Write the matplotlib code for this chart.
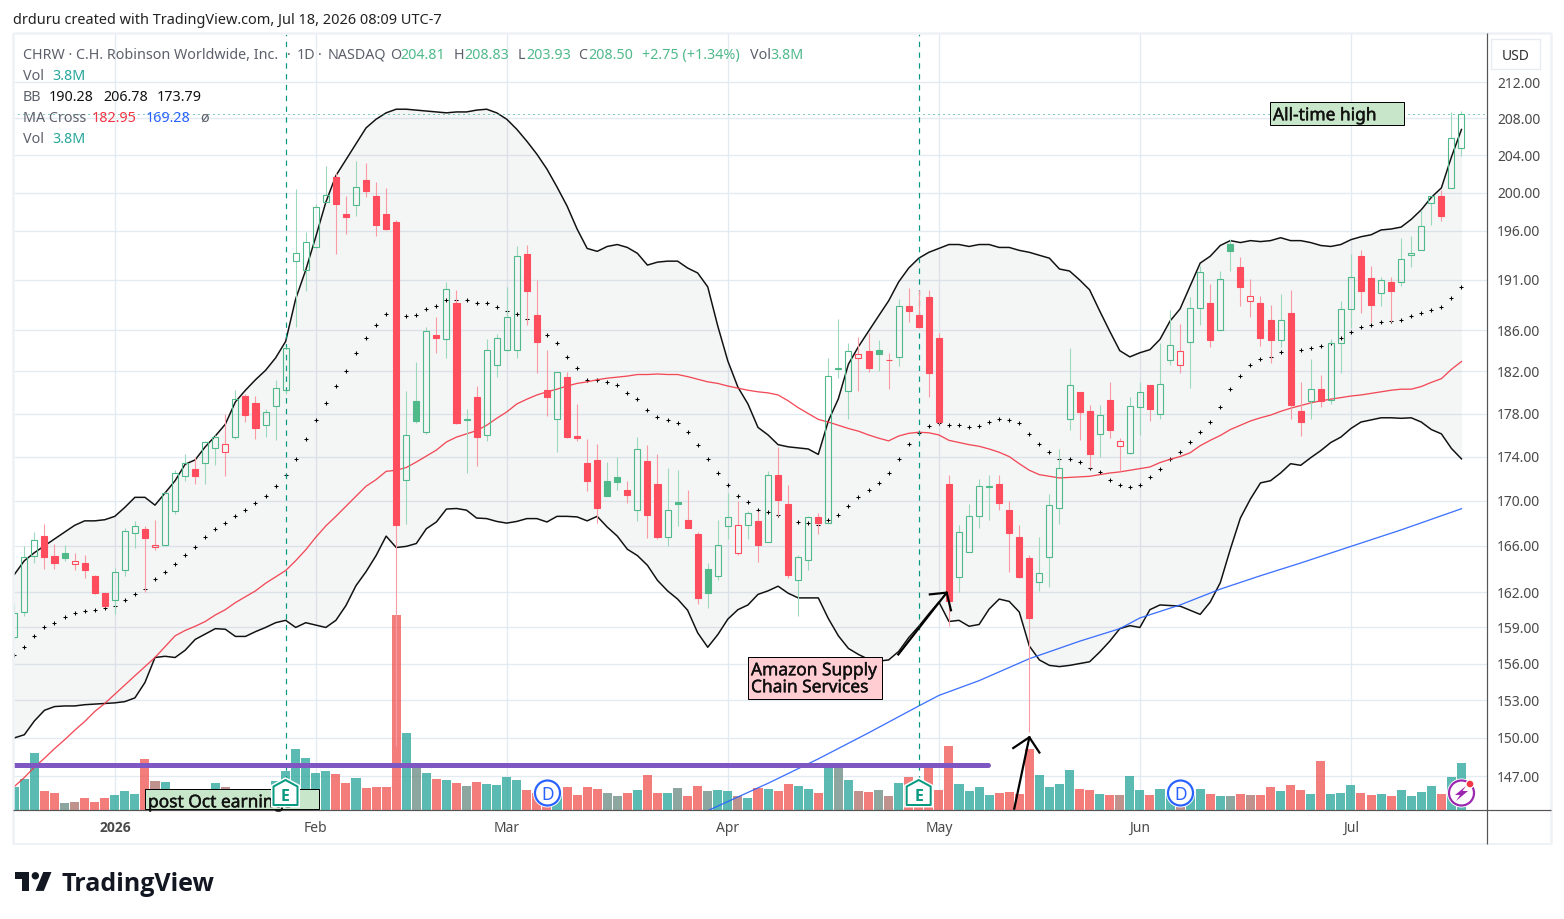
import numpy as np
import matplotlib
matplotlib.use("Agg")
import matplotlib.pyplot as plt
import matplotlib.patheffects as pe
from matplotlib.patches import Rectangle, Polygon, Circle
from matplotlib.ticker import NullLocator, NullFormatter
from matplotlib.transforms import ScaledTranslation

# Daily OHLC for CHRW
opens = [158.2, 160.3, 165.1, 166.9, 165.1, 165.4, 164.4, 164.5, 163.4, 161.9,
         161.3, 163.9, 167.1, 167.5, 165.9, 166.1, 169.1, 172.2, 172.9, 173.4,
         174.8, 174.4, 175.8, 179.7, 179.0, 176.9, 178.7, 180.2, 192.9, 192.0,
         194.3, 199.0, 201.7, 197.8, 198.7, 201.3, 199.6, 197.8, 196.9, 171.9,
         179.2, 176.3, 185.5, 185.1, 188.7, 177.5, 179.6, 176.0, 182.6, 184.1,
         184.1, 193.6, 187.5, 180.2, 177.5, 181.5, 175.9, 173.4, 173.7, 171.8,
         172.1, 171.0, 169.2, 173.6, 171.5, 166.8, 169.9, 168.3, 167.0, 164.0,
         163.4, 167.7, 165.4, 167.8, 168.2, 166.3, 172.3, 169.7, 163.0, 164.8,
         168.5, 168.0, 182.3, 180.1, 183.3, 184.0, 184.1, 183.05, 183.4, 188.4,
         187.5, 189.3, 185.2, 171.5, 163.3, 165.5, 168.6, 171.25, 171.5, 169.2,
         166.8, 164.9, 162.9, 165.0, 169.3, 177.5, 180.0, 178.2, 176.1, 179.3,
         175.0, 174.3, 178.6, 180.7, 178.0, 183.1, 182.6, 184.8, 188.2, 188.7,
         186.0, 194.7, 192.3, 188.9, 188.7, 187.0, 185.0, 187.7, 178.2, 179.2,
         180.3, 179.3, 184.7, 188.1, 193.4, 191.2, 189.7, 190.8, 190.8, 193.5,
         194.0, 198.9, 199.6, 200.5, 204.81]
highs = [161.1, 166.0, 167.2, 167.9, 166.2, 166.1, 165.4, 165.2, 163.5, 161.9,
         164.1, 167.6, 168.2, 167.7, 168.3, 170.8, 172.8, 174.2, 174.0, 175.4,
         176.0, 178.0, 180.2, 179.8, 179.7, 178.4, 181.2, 184.4, 200.4, 195.9,
         198.8, 202.8, 202.1, 199.6, 203.4, 203.2, 201.1, 200.5, 197.1, 180.1,
         182.9, 186.3, 187.3, 190.8, 190.0, 178.4, 180.6, 185.1, 185.6, 190.3,
         194.4, 194.6, 191.0, 184.1, 181.9, 181.9, 178.9, 175.6, 175.2, 173.5,
         174.0, 171.8, 175.8, 175.1, 174.2, 173.0, 172.8, 171.0, 167.2, 164.5,
         168.3, 170.7, 170.0, 169.1, 169.1, 172.7, 174.9, 171.4, 165.2, 168.6,
         168.9, 183.3, 187.1, 184.7, 185.3, 185.7, 185.0, 183.8, 189.1, 190.2,
         190.0, 190.0, 185.7, 172.3, 167.8, 169.7, 172.0, 172.3, 172.3, 170.0,
         167.8, 165.2, 166.8, 170.6, 174.7, 184.3, 180.0, 178.8, 178.8, 181.0,
         175.7, 179.6, 181.0, 180.7, 184.7, 188.0, 186.6, 189.3, 192.4, 190.6,
         191.9, 195.2, 193.3, 191.1, 189.4, 188.5, 189.6, 190.0, 181.0, 183.2,
         181.7, 185.1, 188.9, 193.6, 194.0, 192.4, 191.3, 191.3, 195.3, 195.5,
         198.2, 199.6, 200.3, 208.7, 208.83]
lows = [158.0, 160.0, 164.5, 164.0, 164.0, 164.7, 163.9, 163.2, 161.8, 160.7,
        160.1, 163.4, 165.8, 162.0, 165.6, 166.0, 168.8, 171.8, 171.5, 171.5,
        173.2, 172.2, 175.6, 177.2, 175.6, 175.8, 175.5, 179.8, 186.3, 189.9,
        194.2, 199.0, 193.6, 195.7, 197.6, 199.5, 195.5, 196.1, 149.4, 167.9,
        177.1, 176.1, 183.8, 183.3, 177.0, 172.5, 173.1, 175.4, 181.5, 184.0,
        183.3, 186.5, 181.8, 177.8, 174.4, 175.7, 175.4, 170.9, 168.0, 170.4,
        171.0, 169.8, 168.2, 166.7, 166.6, 166.0, 167.7, 167.6, 161.0, 160.6,
        163.0, 166.6, 165.2, 166.6, 164.6, 166.3, 168.6, 163.2, 160.0, 163.9,
        167.0, 168.0, 181.4, 177.5, 180.1, 181.9, 182.0, 180.3, 182.5, 186.8,
        186.2, 179.6, 177.0, 159.1, 162.0, 165.5, 167.6, 168.3, 169.2, 163.7,
        163.2, 150.5, 162.1, 162.4, 167.9, 176.5, 175.5, 173.0, 174.0, 175.7,
        172.7, 174.2, 176.0, 177.3, 177.5, 182.6, 181.8, 180.4, 186.5, 184.4,
        186.0, 191.9, 188.4, 187.3, 184.5, 182.8, 184.4, 177.5, 175.9, 177.5,
        178.6, 178.9, 181.8, 186.2, 187.7, 186.8, 188.4, 186.8, 190.4, 192.3,
        194.0, 196.6, 197.0, 200.5, 203.93]
closes = [160.2, 165.0, 166.5, 165.0, 164.5, 164.9, 164.7, 163.9, 161.9, 160.8,
          163.7, 167.3, 167.7, 166.7, 166.1, 170.7, 172.5, 173.4, 172.2, 175.3,
          175.8, 175.2, 179.4, 177.9, 176.6, 178.1, 180.4, 184.3, 193.7, 194.9,
          198.5, 199.7, 198.8, 197.4, 200.6, 200.2, 196.6, 196.2, 167.8, 176.0,
          177.3, 185.9, 185.2, 190.1, 177.1, 177.4, 175.8, 184.1, 185.2, 187.3,
          193.4, 189.9, 184.8, 179.6, 181.9, 175.8, 175.7, 171.8, 169.3, 170.4,
          171.7, 170.5, 174.7, 168.7, 166.8, 169.2, 169.7, 167.6, 161.5, 161.9,
          166.1, 168.5, 167.8, 168.9, 166.1, 172.3, 170.1, 163.5, 165.0, 168.5,
          168.0, 181.6, 182.2, 184.0, 183.7, 182.3, 183.7, 183.1, 188.4, 187.9,
          186.3, 181.8, 177.2, 161.2, 167.2, 168.6, 171.3, 171.35, 169.8, 167.1,
          163.3, 159.8, 163.6, 169.6, 173.0, 180.7, 178.1, 174.2, 177.9, 176.5,
          175.4, 178.7, 180.0, 178.4, 180.8, 184.6, 184.0, 188.2, 191.8, 185.0,
          191.1, 193.9, 190.3, 189.4, 185.2, 185.0, 187.0, 178.8, 177.2, 180.3,
          179.2, 184.7, 188.1, 191.3, 189.9, 188.5, 191.0, 189.9, 193.1, 193.7,
          196.5, 199.6, 197.6, 205.8, 208.5]

# Volume in millions of shares
volume = [1.9, 2.5, 4.65, 1.5, 1.35, 0.52, 0.6, 0.94, 0.6, 0.94,
          1.18, 1.5, 1.27, 4.15, 2.34, 2.26, 1.6, 1.5, 1.3, 1.6,
          2.18, 1.85, 1.6, 1.2, 1.4, 1.2, 2.34, 3.17, 5.0, 4.25,
          3.0, 3.17, 2.92, 2.18, 2.6, 1.76, 1.85, 1.85, 16.06, 6.3,
          3.5, 3.0, 2.5, 2.42, 2.18, 1.93, 2.26, 2.09, 2.0, 2.67,
          2.42, 1.6, 1.4, 1.3, 1.5, 1.85, 1.18, 1.85, 1.68, 1.35,
          1.1, 1.35, 1.6, 2.84, 1.35, 1.35, 1.76, 1.1, 1.93, 1.5,
          1.6, 1.5, 1.1, 0.94, 1.76, 1.68, 1.5, 2.09, 1.93, 1.68,
          1.35, 3.8, 3.8, 2.42, 1.5, 1.43, 1.6, 1.1, 2.18, 2.67,
          1.5, 3.4, 1.6, 5.23, 2.09, 1.5, 1.85, 1.18, 1.35, 1.43,
          1.27, 5.0, 2.84, 1.85, 2.09, 3.25, 1.68, 1.6, 1.27, 1.18,
          1.18, 2.75, 1.6, 1.18, 1.68, 1.3, 1.0, 1.5, 1.68, 1.27,
          1.1, 1.1, 1.27, 1.18, 1.18, 1.85, 1.5, 2.0, 1.6, 1.27,
          4.0, 1.27, 1.35, 2.0, 1.35, 1.18, 1.27, 1.1, 1.6, 1.1,
          1.43, 1.93, 1.27, 2.67, 3.83]

# Bollinger bands
bb_upper = [163.5, 164.7, 165.4, 166.0, 166.6, 167.2, 167.8, 168.2, 168.2, 168.3,
            168.6, 169.4, 170.3, 170.3, 169.6, 170.7, 171.8, 173.3, 173.7, 174.9,
            175.9, 177.0, 179.1, 180.2, 181.2, 182.1, 183.3, 184.9, 189.1, 192.0,
            195.4, 199.0, 201.8, 203.5, 205.2, 206.95, 207.9, 208.6, 209.0, 209.0,
            208.9, 208.8, 208.7, 208.6, 208.7, 208.7, 208.9, 209.0, 208.6, 207.9,
            206.8, 205.5, 204.1, 202.5, 200.6, 198.6, 196.2, 194.2, 193.9, 194.4,
            194.6, 194.3, 193.7, 192.5, 192.8, 192.9, 192.9, 192.2, 191.7, 190.3,
            186.4, 183.0, 180.5, 178.9, 176.7, 176.0, 175.1, 174.9, 174.8, 174.7,
            174.2, 177.3, 179.4, 182.7, 184.4, 185.9, 187.4, 188.9, 190.8, 192.2,
            193.2, 193.8, 194.2, 194.6, 194.6, 194.4, 194.6, 194.6, 194.3, 194.3,
            194.0, 193.8, 193.5, 193.2, 192.1, 191.9, 191.0, 190.0, 187.9, 185.9,
            184.0, 183.4, 183.8, 184.1, 185.1, 186.9, 188.1, 190.4, 192.7, 193.4,
            194.5, 195.0, 194.8, 195.0, 194.9, 195.0, 195.3, 195.0, 195.0, 194.8,
            194.5, 194.4, 194.6, 195.1, 195.4, 195.6, 196.1, 196.2, 196.4, 197.2,
            198.2, 199.5, 200.5, 203.8, 206.78]
bb_basis = [156.7, 157.4, 158.3, 159.0, 159.4, 159.9, 160.2, 160.4, 160.5, 160.6,
            160.8, 161.3, 161.8, 162.3, 163.1, 163.7, 164.4, 165.2, 165.9, 166.8,
            167.5, 168.0, 168.6, 169.2, 169.8, 170.4, 171.3, 172.3, 173.8, 175.6,
            177.4, 179.0, 180.6, 182.0, 183.8, 185.2, 186.5, 187.6, 187.5, 187.4,
            187.5, 188.1, 188.4, 189.0, 189.0, 189.0, 188.7, 188.7, 188.3, 187.9,
            187.6, 187.1, 186.3, 185.5, 184.7, 183.4, 182.3, 181.2, 181.2, 181.0,
            180.7, 179.9, 179.4, 178.3, 177.7, 177.4, 177.1, 176.3, 175.1, 173.8,
            172.5, 171.4, 170.4, 169.9, 169.2, 169.0, 168.7, 168.4, 168.1, 168.0,
            167.8, 168.3, 168.7, 169.5, 170.3, 171.0, 171.6, 172.5, 173.8, 175.2,
            176.2, 176.8, 177.1, 176.9, 176.9, 176.7, 176.8, 177.2, 177.5, 177.4,
            177.1, 176.1, 175.2, 174.4, 173.8, 173.8, 173.5, 173.0, 172.6, 171.9,
            171.4, 171.2, 171.4, 172.1, 172.9, 173.8, 174.4, 175.3, 176.3, 177.2,
            178.6, 180.3, 181.6, 182.6, 183.2, 183.4, 183.9, 184.0, 184.1, 184.3,
            184.5, 184.7, 185.2, 185.8, 186.3, 186.5, 186.8, 186.9, 187.0, 187.4,
            187.7, 188.0, 188.3, 189.2, 190.28]
bb_lower = [150.0, 150.25, 151.35, 152.2, 152.5, 152.55, 152.55, 152.65, 152.7, 152.75,
            152.8, 152.9, 153.2, 154.45, 156.5, 156.6, 156.5, 157.1, 158.0, 158.45,
            158.9, 158.85, 158.25, 158.25, 158.65, 159.0, 159.4, 159.6, 159.0, 159.4,
            159.2, 159.0, 159.6, 160.85, 162.55, 163.75, 165.15, 166.85, 165.85, 165.95,
            166.2, 167.5, 168.1, 169.25, 169.3, 169.15, 168.45, 168.4, 168.15, 168.0,
            168.15, 168.4, 168.4, 168.1, 168.6, 168.6, 168.55, 168.2, 168.6, 167.65,
            166.85, 165.7, 165.15, 164.3, 163.0, 162.1, 161.4, 160.45, 158.55, 157.35,
            158.4, 159.7, 160.5, 160.9, 161.8, 162.1, 162.5, 161.9, 161.5, 161.5,
            161.5, 159.75, 158.3, 157.25, 156.75, 156.35, 156.2, 156.3, 157.0, 158.15,
            159.1, 160.15, 161.15, 159.5, 159.6, 159.1, 159.25, 160.55, 161.4, 161.2,
            160.3, 157.45, 156.3, 155.85, 155.75, 155.85, 156.0, 156.15, 156.95, 157.85,
            158.9, 159.15, 159.0, 160.5, 160.9, 160.85, 160.8, 160.45, 160.1, 161.15,
            162.8, 165.7, 168.45, 170.15, 171.6, 171.8, 172.5, 173.35, 173.2, 173.9,
            174.55, 175.3, 175.8, 176.6, 177.2, 177.4, 177.6, 177.6, 177.55, 177.6,
            177.2, 176.5, 176.1, 174.75, 173.79]

# 50 day moving average
ma_fast = [146.2, 146.9, 147.7, 148.4, 149.15, 149.85, 150.6, 151.3, 152.1, 152.75,
           153.5, 154.25, 155.0, 155.75, 156.5, 157.4, 158.3, 158.75, 159.1, 159.5,
           160.05, 160.5, 161.1, 161.6, 162.1, 162.75, 163.3, 163.85, 164.7, 165.65,
           166.75, 167.75, 168.6, 169.5, 170.4, 171.3, 171.9, 172.65, 172.75, 173.0,
           173.5, 174.05, 174.6, 175.35, 175.8, 176.1, 176.4, 176.9, 177.55, 178.15,
           178.9, 179.35, 179.75, 180.05, 180.3, 180.6, 180.85, 181.0, 181.2, 181.35,
           181.45, 181.55, 181.7, 181.7, 181.75, 181.7, 181.7, 181.5, 181.25, 181.0,
           180.85, 180.6, 180.4, 180.2, 180.05, 179.95, 179.75, 179.2, 178.55, 178.0,
           177.45, 177.2, 176.9, 176.6, 176.35, 176.0, 175.7, 175.45, 175.9, 176.15,
           176.25, 176.2, 176.0, 175.5, 175.3, 175.1, 174.95, 174.7, 174.4, 174.0,
           173.35, 172.75, 172.35, 172.2, 172.05, 172.1, 172.15, 172.2, 172.35, 172.5,
           172.6, 172.75, 172.9, 173.05, 173.45, 173.75, 174.0, 174.35, 175.0, 175.5,
           175.95, 176.5, 176.9, 177.3, 177.6, 177.85, 178.2, 178.5, 178.75, 179.0,
           179.2, 179.35, 179.5, 179.65, 179.75, 179.9, 180.05, 180.2, 180.3, 180.3,
           180.55, 180.95, 181.3, 182.2, 182.95]

# 200 day moving average, read at a few sessions
ma_slow_bars = [69, 75, 80, 85, 90, 92, 96, 101, 106, 110, 112, 116, 120, 124, 128, 133, 138, 144]
ma_slow = [144.35, 146.45, 148.35, 150.4, 152.55, 153.4, 154.6, 156.4, 157.85, 158.9,
           159.8, 160.9, 162.25, 163.4, 164.5, 165.95, 167.4, 169.28]

price_ticks = [212, 208, 204, 200, 196, 191, 186, 182, 178, 174, 170, 166, 162, 159, 156, 153, 150, 147]
month_bars = [10, 30, 49, 71, 92, 112, 133]
month_labels = ["", "Feb", "Mar", "Apr", "May", "Jun", "Jul"]
earnings_bars = [27, 90]
last_close = 208.5
resistance = 147.9

GREEN = "#4fb98a"
RED = "#ff4d5e"
TEAL = "#089981"
VOL_UP = "#26a69a"
VOL_DOWN = "#ef5350"
GRID = "#e4eaf1"
AXIS = "#555555"
TXT = "#5d606b"
PX = 100 / 72  # pixels per point at this dpi

plt.rcParams["font.family"] = ["Noto Sans", "DejaVu Sans"]

o = np.array(opens)
h = np.array(highs)
l = np.array(lows)
c = np.array(closes)
vol = np.array(volume)
bars = np.arange(len(c))
prev = np.r_[o[0], c[:-1]]
top = np.maximum(o, c)
bottom = np.minimum(o, c)
up_day = c >= prev
hollow = c >= o

fig = plt.figure(figsize=(15.64, 9.2), dpi=100, facecolor="white")
rect = [13 / 1564, (920 - 810.5) / 920, 1473.5 / 1564, 775.5 / 920]
xlim = (-0.129, 146.49)
ylim = (144.44, 217.46)

# Grid and axis labels sit at the back
ax_back = fig.add_axes(rect, zorder=0)
ax_back.set_yscale("log")
ax_back.set_xlim(xlim)
ax_back.set_ylim(ylim)
ax_back.yaxis.set_minor_locator(NullLocator())
ax_back.yaxis.set_minor_formatter(NullFormatter())
ax_back.yaxis.tick_right()
ax_back.set_yticks(price_ticks)
ax_back.set_yticklabels([f"{p:.2f}" for p in price_ticks], fontsize=10, color="#4a4a4a")
ax_back.set_xticks(month_bars)
ax_back.set_xticklabels(month_labels, fontsize=10, color="#4a4a4a")
ax_back.tick_params(axis="both", length=0)
ax_back.tick_params(axis="y", pad=7.5)
ax_back.tick_params(axis="x", pad=7.5)
shift_up = ScaledTranslation(0, 1 / 100, fig.dpi_scale_trans)
for t in ax_back.yaxis.get_major_ticks():
    t.label2.set_transform(t.label2.get_transform() + shift_up)
ax_back.grid(True, color=GRID, lw=1.3 / PX)
ax_back.set_axisbelow(True)
for s in ax_back.spines.values():
    s.set_visible(False)

# Two volume layers overlap, which gives the grey and brown sessions
ax_vol = fig.add_axes(rect, zorder=1)
ax_vol.patch.set_visible(False)
ax_vol.axis("off")
ax_vol.set_xlim(xlim)
ax_vol.set_ylim(0, 64.1)
ax_vol.bar(bars, vol, width=0.9, color=np.where(c >= o, VOL_UP, VOL_DOWN), alpha=0.5, lw=0)
ax_vol.bar(bars, vol, width=0.9, color=np.where(up_day, VOL_UP, VOL_DOWN), alpha=0.5, lw=0)

ax = fig.add_axes(rect, zorder=2)
ax.patch.set_visible(False)
ax.axis("off")
ax.set_yscale("log")
ax.set_xlim(xlim)
ax.set_ylim(ylim)

# Indicators
ax.fill_between(bars, bb_lower, bb_upper, color="#0a2a2a", alpha=0.045, lw=0)
ax.plot(bars, bb_upper, color="#111111", lw=1.5 / PX)
ax.plot(bars, bb_lower, color="#111111", lw=1.5 / PX)
ax.plot(bars, bb_basis, ls="none", marker="+", ms=3.4, mew=0.75, color="black")
ax.plot(bars, ma_fast, color="#f23645", lw=1.3 / PX, alpha=0.9)
ax.plot(ma_slow_bars, ma_slow, color="#2962ff", lw=1.3 / PX, alpha=0.9)
ax.axhline(last_close, color=TEAL, lw=1 / PX, ls=(0, (1, 4)))
ax.vlines(earnings_bars, 146.6, ylim[1], color=TEAL, lw=1.2 / PX, ls=(0, (4.5, 4.5)))

# Candles: wicks stop at the body so hollow ones stay see-through
colors = np.where(up_day, GREEN, RED)
wick_colors = np.where(up_day, "#9cd8bb", "#f99aa5")
ax.vlines(bars, top, h, color=wick_colors, lw=1.1 / PX, zorder=5)
ax.vlines(bars, l, bottom, color=wick_colors, lw=1.1 / PX, zorder=5)
for i in bars:
    ax.bar(i, top[i] - bottom[i], bottom=bottom[i], width=0.6,
           facecolor="none" if hollow[i] else colors[i],
           edgecolor=colors[i], lw=1.1 / PX, zorder=6)

# Horizontal level and hand drawn arrows
ax.plot([-0.129, 96.9], [resistance, resistance], color="#7e57c2", lw=5 / PX,
        solid_capstyle="round", zorder=7)
ax.plot([87.96, 92.78], [156.75, 161.95], color="black", lw=2.2 / PX, zorder=8)
ax.plot([91.1, 92.78, 93.2], [161.8, 161.95, 160.45], color="black", lw=2.2 / PX, zorder=8)
ax.plot([99.5, 101], [144.5, 150.05], color="black", lw=2.2 / PX, zorder=8)
ax.plot([99.4, 101, 102], [149.2, 150.05, 148.85], color="black", lw=2.2 / PX, zorder=8)

# Everything else is placed in image pixels
over = fig.add_axes([0, 0, 1, 1], zorder=3)
over.patch.set_visible(False)
over.axis("off")
over.set_xlim(0, 1564)
over.set_ylim(920, 0)


def label(x, y, s, color=TXT, size=10.3, **kw):
    # y is the middle of the capital letters, whatever the string's descenders do
    return over.text(x, y + size * PX * 0.36, s, color=color, fontsize=size, va="baseline",
                     ha=kw.pop("ha", "left"), **kw)


def note(x, y, s):
    # Drawing notes look a little heavier than normal text
    t = label(x, y, s, "#111111", 12.5)
    t.set_path_effects([pe.withStroke(linewidth=0.3, foreground="#111111")])
    return t


# Pane frame
for xs, ys, col, w in [([13, 1551], [34, 34], "#eef1f5", 2.5),
                       ([13, 13], [34, 845], "#eef1f5", 2.5),
                       ([1551, 1551], [34, 845], "#eef1f5", 2.5),
                       ([13, 1551], [845, 845], "#eef1f5", 2.0),
                       ([13, 1551], [810.5, 810.5], AXIS, 1.2),
                       ([1486.5, 1486.5], [34, 845], AXIS, 1.2)]:
    over.plot(xs, ys, color=col, lw=w / PX, solid_capstyle="butt")

over.add_patch(Rectangle((1491, 40), 49, 30, fc="white", ec="#e8ebf0", lw=1))
label(1515.5, 55, "USD", "#333333", 10.0, ha="center")

label(13, 19, "drduru created with TradingView.com, Jul 18, 2026 08:09 UTC-7", "#222222", 10.45)

for x, s in [(23, "CHRW · C.H. Robinson Worldwide, Inc."), (287, "·"), (297, "1D"), (318, "·")]:
    label(x, 54, s)
label(328, 53, "NASDAQ")
for x, s, col in [(390, "O", TXT), (400.5, "204.81", GREEN), (454, "H", TXT), (464.5, "208.83", GREEN),
                  (518, "L", TXT), (526, "203.93", GREEN), (578, "C", TXT), (588.5, "208.50", GREEN),
                  (642, "+2.75 (+1.34%)", GREEN), (750, "Vol", TXT), (770, "3.8M", GREEN)]:
    label(x, 54, s, col)
label(23, 75, "Vol")
label(52, 75, "3.8M", "#26a69a")
label(23, 96, "BB")
for x, s in [(49, "190.28"), (103, "206.78"), (157, "173.79")]:
    label(x, 96, s, "#111111")
label(23, 117, "MA Cross")
label(92, 117, "182.95", "#f23645")
label(146, 117, "169.28", "#2962ff")
label(200, 117, "ø")
label(23, 138, "Vol")
label(52, 138, "3.8M", "#26a69a")

# Year label on the time axis is bold
label(115.5, 827, "2026", "#4a4a4a", 10.0, ha="center", fontweight="bold", family="Open Sans")

# Text notes
over.add_patch(Rectangle((1270, 103), 134, 23, fc="#c8e6c9", ec="black", lw=1 / PX))
note(1273, 115, "All-time high")
over.add_patch(Rectangle((747.5, 657.5), 134, 42, fc="#ffcdd2", ec="black", lw=1 / PX))
note(751, 670, "Amazon Supply")
note(751, 687, "Chain Services")
over.add_patch(Rectangle((144.5, 789.5), 174, 20.5, fc="#c8e6c9", ec="black", lw=1 / PX))
note(148, 802, "post Oct earnings")


def earnings_badge(cx):
    pts = [(cx, 781), (cx + 12, 787.5), (cx + 12, 806), (cx - 12, 806), (cx - 12, 787.5)]
    over.add_patch(Polygon(pts, closed=True, fc="white", ec="white", lw=5 / PX, zorder=5))
    over.add_patch(Polygon(pts, closed=True, fc="white", ec=TEAL, lw=2 / PX, joinstyle="round", zorder=6))
    label(cx, 795, "E", TEAL, 11.5, ha="center", fontweight="bold", family="Open Sans", zorder=7)


def dividend_badge(x):
    over.add_patch(Circle((x, 794), 14.5, fc="white", ec="none", zorder=5))
    over.add_patch(Circle((x, 794), 12.5, fc="white", ec="#2962ff", lw=2.2 / PX, zorder=6))
    label(x, 794, "D", "#2962ff", 12.5, ha="center", zorder=7)


for x in [285.5, 918.7]:
    earnings_badge(x)
for x in [547.5, 1180.5]:
    dividend_badge(x)

# Alert badge on the last session
over.add_patch(Circle((1461.5, 794), 14.5, fc="white", ec="none", zorder=5))
over.add_patch(Circle((1461.5, 794), 12.5, fc="white", ec="#9c27b0", lw=2.2 / PX, zorder=6))
bolt = [(1466, 787), (1455, 796), (1460, 796), (1456, 802), (1468, 792), (1462.5, 792)]
over.add_patch(Polygon(bolt, closed=True, fc="#9c27b0", ec="none", zorder=7))
over.add_patch(Circle((1470, 785), 4.5, fc="white", ec="none", zorder=7))
over.add_patch(Circle((1470, 785), 3.3, fc="#f23645", ec="none", zorder=8))

# Logo
sx, ox, oy = 37 / 36, 15, 873 - 4 * 1.05
logo_t = [(14, 22), (7, 22), (7, 11), (0, 11), (0, 4), (14, 4)]
logo_v = [(28, 22), (20, 22), (27.5, 4), (35.5, 4)]
for shape in (logo_t, logo_v):
    over.add_patch(Polygon([(ox + a * sx, oy + b * 1.05) for a, b in shape], closed=True, fc="#131722", ec="none"))
over.add_patch(Circle((ox + 19.8 * sx, oy + 7.6 * 1.05), 3.7, fc="#131722", ec="none"))
label(61.5, 882, "TradingView", "#131722", 18.0, fontweight="bold", family="Open Sans")

fig.savefig("out.png", dpi=100, facecolor="white")
